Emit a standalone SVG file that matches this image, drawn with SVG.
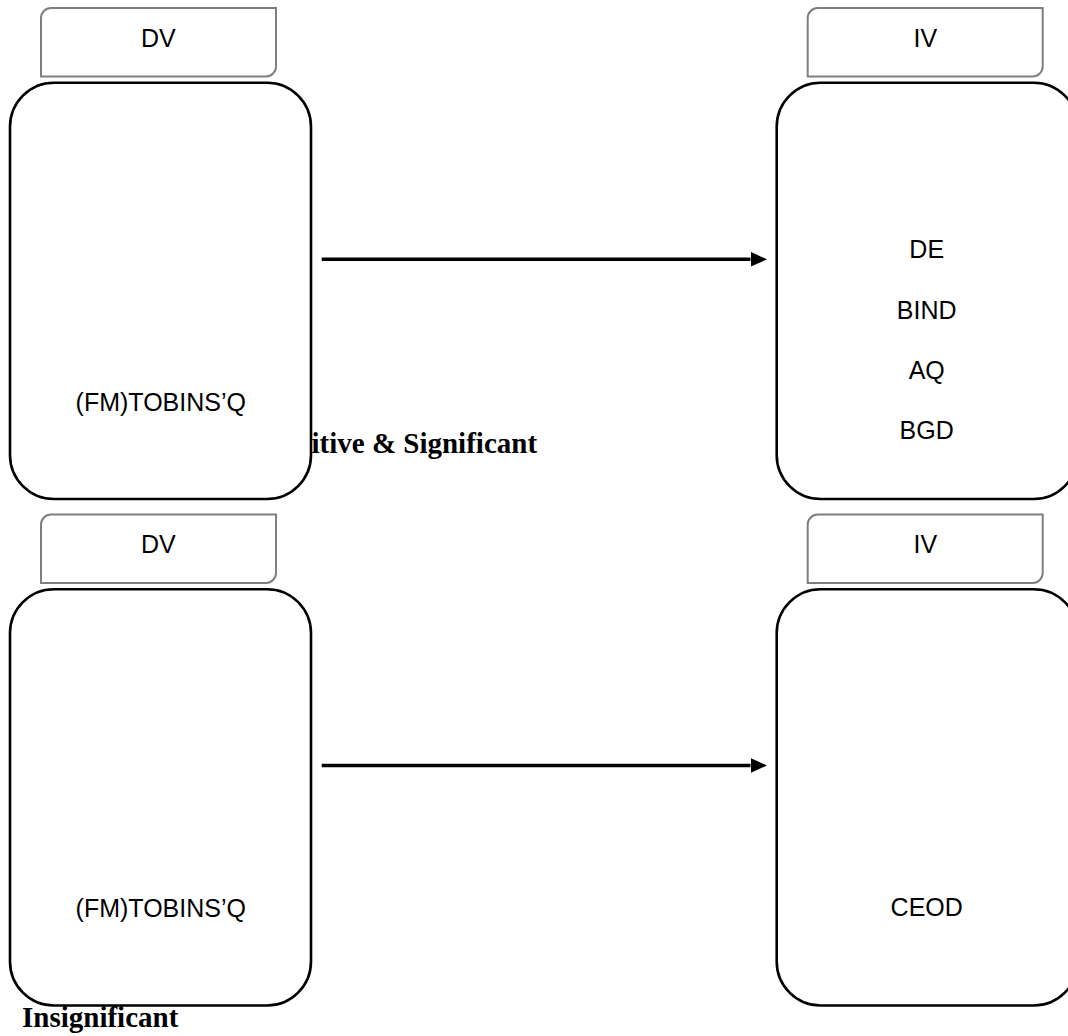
<svg xmlns="http://www.w3.org/2000/svg" width="1068" height="1036" viewBox="0 0 1068 1036">
<defs>
<style>
.tag{fill:#fff;stroke:#7f7f7f;stroke-width:2}
.big{fill:#fff;stroke:#000;stroke-width:2.6}
.t{font-family:"Liberation Sans",Arial,sans-serif;font-size:25px;fill:#000;text-anchor:middle}
.lbl{font-family:"Liberation Serif","Times New Roman",serif;font-size:29px;font-weight:bold;fill:#000}
.arr{stroke:#000;stroke-width:3.6;fill:none}
</style>
<marker id="ah" markerUnits="userSpaceOnUse" markerWidth="17" markerHeight="16" refX="0" refY="7.5" orient="auto">
<path d="M0,0 L16.5,7.5 L0,15 z" fill="#000"/>
</marker>
</defs>
<rect width="1068" height="1036" fill="#fff"/>

<text class="lbl" x="268" y="453">Positive &amp; Significant</text>
<text class="lbl" x="22" y="1026.5">Insignificant</text>

<g id="dv1">
<path class="tag" d="M51,8 H276 V66.5 A10,10 0 0 1 266,76.5 H41 V18 A10,10 0 0 1 51,8 Z"/>
<text class="t" x="158.3" y="46.7">DV</text>
</g>
<g id="dvbox1">
<rect class="big" x="10" y="82.7" width="301" height="416.3" rx="44" ry="44"/>
<text class="t" x="160.8" y="411">(FM)TOBINS’Q</text>
</g>
<g id="iv1">
<path class="tag" d="M817.7,8 H1042.7 V66.5 A10,10 0 0 1 1032.7,76.5 H807.7 V18 A10,10 0 0 1 817.7,8 Z"/>
<text class="t" x="925.3" y="46.7">IV</text>
</g>
<g id="ivbox1">
<rect class="big" x="776.7" y="82.7" width="301" height="416.3" rx="44" ry="44"/>
<text class="t" x="926.7" y="258.3">DE</text>
<text class="t" x="926.7" y="319">BIND</text>
<text class="t" x="926.7" y="378.6">AQ</text>
<text class="t" x="926.7" y="438.7">BGD</text>
</g>

<g id="dv2">
<path class="tag" d="M51,514.5 H276 V573 A10,10 0 0 1 266,583 H41 V524.5 A10,10 0 0 1 51,514.5 Z"/>
<text class="t" x="158.3" y="553.3">DV</text>
</g>
<g id="dvbox2">
<rect class="big" x="10" y="589.2" width="301" height="416.3" rx="44" ry="44"/>
<text class="t" x="160.8" y="917.3">(FM)TOBINS’Q</text>
</g>
<g id="iv2">
<path class="tag" d="M817.7,514.5 H1042.7 V573 A10,10 0 0 1 1032.7,583 H807.7 V524.5 A10,10 0 0 1 817.7,514.5 Z"/>
<text class="t" x="925.3" y="553.3">IV</text>
</g>
<g id="ivbox2">
<rect class="big" x="776.7" y="589.2" width="301" height="416.3" rx="44" ry="44"/>
<text class="t" x="926.7" y="916">CEOD</text>
</g>

<g id="connectors">
<line class="arr" x1="321.7" y1="259.3" x2="750.5" y2="259.3" marker-end="url(#ah)"/>
<line class="arr" x1="321.7" y1="765.5" x2="750.5" y2="765.5" marker-end="url(#ah)"/>
</g>
</svg>
